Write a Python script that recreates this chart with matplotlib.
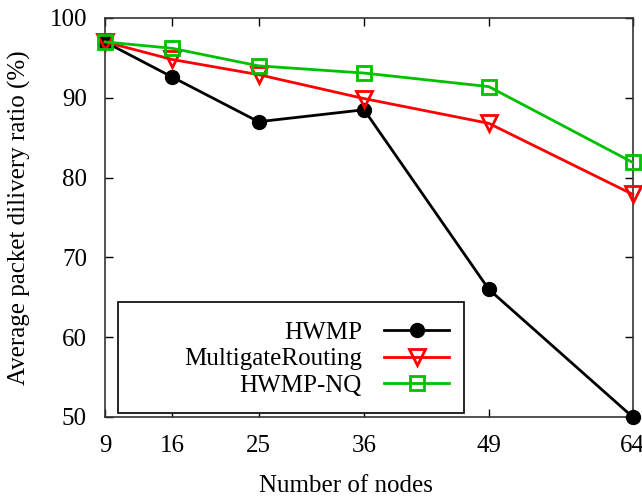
import matplotlib
matplotlib.use("Agg")
import matplotlib.pyplot as plt
from matplotlib.patches import Rectangle

# data
nodes = [9, 16, 25, 36, 49, 64]
hwmp = [97, 92.6, 87, 88.5, 66, 50]
multigate = [97, 94.8, 92.9, 89.9, 86.8, 77.9]
hwmp_nq = [97, 96.2, 94.0, 93.1, 91.4, 81.9]
yticks = [50, 60, 70, 80, 90, 100]

plt.rcParams['font.family'] = ['Liberation Serif', 'DejaVu Serif']
plt.rcParams['font.size'] = 18

fig = plt.figure(figsize=(6.42, 5.01), dpi=100)
ax = fig.add_axes([0.1636, 0.1677, 0.8219, 0.7964])

ax.plot(nodes, hwmp, color='black', lw=2, marker='o', ms=10,
        label='HWMP', clip_on=False, zorder=3)
ax.plot(nodes, multigate, color='#ff0000', lw=2, marker='v', ms=12,
        mfc='none', mew=2, label='MultigateRouting', clip_on=False, zorder=3)
ax.plot(nodes, hwmp_nq, color='#00c000', lw=2, marker='s', ms=10.5,
        mfc='none', mew=2, label='HWMP-NQ', clip_on=False, zorder=3)

ax.set_xlim(9, 64)
ax.set_ylim(50, 100)
ax.set_xticks(nodes)
ax.set_yticks(yticks)
ax.tick_params(direction='in', length=6, width=1, pad=13,
               top=True, right=True, colors='black')
for s in ax.spines.values():
    s.set_linewidth(1.2)
    s.set_color('#333333')

ax.set_xlabel('Number of nodes')
ax.xaxis.set_label_coords(0.457, -0.145)
ax.set_ylabel('Average packet dilivery ratio (%)')
ax.yaxis.set_label_coords(-0.14, 0.5)

# gnuplot style key: box drawn separately, text right aligned before the sample
ax.add_patch(Rectangle((0.0246, 0.01), 0.655, 0.278, transform=ax.transAxes,
                       facecolor='white', edgecolor='black', lw=1.2, zorder=4))
leg = ax.legend(loc='center right', bbox_to_anchor=(0.676, 0.145),
                frameon=False, markerfirst=False, borderpad=0,
                handlelength=2.6, handletextpad=0.9, labelspacing=0.15,
                fontsize=18)
leg.set_zorder(5)

fig.savefig('out.png', dpi=100)
